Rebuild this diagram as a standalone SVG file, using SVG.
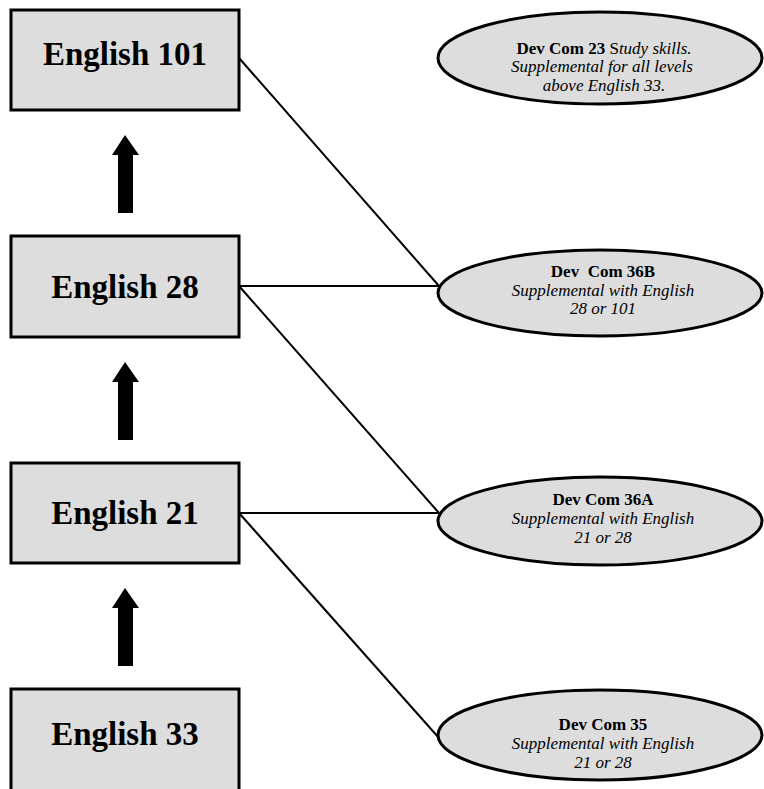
<svg xmlns="http://www.w3.org/2000/svg" width="764" height="789" viewBox="0 0 764 789">
<style>
.box{fill:#dddddd;stroke:#000;stroke-width:3}
.ell{fill:#dddddd;stroke:#000;stroke-width:3}
.btxt{font-family:"Liberation Serif","Times New Roman",serif;font-weight:bold;font-size:33px;text-anchor:middle;fill:#000}
.etxt{font-family:"Liberation Serif","Times New Roman",serif;font-size:17px;text-anchor:middle;fill:#000}
.b{font-weight:bold}
.i{font-style:italic}
.conn{stroke:#000;stroke-width:2;fill:none}
.arrow{fill:#000}
</style>
<rect width="764" height="789" fill="#fff"/>
<g id="connectors">
<line class="conn" x1="239" y1="58" x2="439" y2="286"/>
<line class="conn" x1="239" y1="286" x2="439" y2="286"/>
<line class="conn" x1="239" y1="286" x2="439" y2="513"/>
<line class="conn" x1="239" y1="513" x2="439" y2="513"/>
<line class="conn" x1="239" y1="513" x2="439" y2="738"/>
</g>
<g id="arrows">
<polygon class="arrow" points="125,135 139,155 133,155 133,213 118,213 118,155 112,155"/>
<polygon class="arrow" points="125,362 139,382 133,382 133,440 118,440 118,382 112,382"/>
<polygon class="arrow" points="125,588 139,608 133,608 133,666 118,666 118,608 112,608"/>
</g>
<g id="english101">
<rect class="box" x="11" y="10" width="228" height="100"/>
<text class="btxt" x="125" y="65">English 101</text>
</g>
<g id="english28">
<rect class="box" x="11" y="236" width="228" height="101"/>
<text class="btxt" x="125" y="298">English 28</text>
</g>
<g id="english21">
<rect class="box" x="11" y="463" width="228" height="100"/>
<text class="btxt" x="125" y="524">English 21</text>
</g>
<g id="english33">
<rect class="box" x="11" y="689" width="228" height="120"/>
<text class="btxt" x="125" y="745">English 33</text>
</g>
<g id="devcom23">
<ellipse class="ell" cx="600" cy="58" rx="162" ry="46"/>
<text class="etxt" x="604" y="54"><tspan class="b">Dev Com 23</tspan> S<tspan class="i">tudy skills.</tspan></text>
<text class="etxt i" x="602" y="72">Supplemental for all levels</text>
<text class="etxt i" x="604" y="91">above English 33.</text>
</g>
<g id="devcom36b">
<ellipse class="ell" cx="600" cy="293" rx="162" ry="43"/>
<text class="etxt b" x="603" y="277">Dev&#160; Com 36B</text>
<text class="etxt i" x="603" y="296">Supplemental with English</text>
<text class="etxt i" x="603" y="314">28 or 101</text>
</g>
<g id="devcom36a">
<ellipse class="ell" cx="600" cy="521" rx="162" ry="44"/>
<text class="etxt b" x="603" y="505">Dev Com 36A</text>
<text class="etxt i" x="603" y="524">Supplemental with English</text>
<text class="etxt i" x="603" y="543">21 or 28</text>
</g>
<g id="devcom35">
<ellipse class="ell" cx="600" cy="735" rx="162" ry="45"/>
<text class="etxt b" x="603" y="730">Dev Com 35</text>
<text class="etxt i" x="603" y="749">Supplemental with English</text>
<text class="etxt i" x="603" y="768">21 or 28</text>
</g>
</svg>
